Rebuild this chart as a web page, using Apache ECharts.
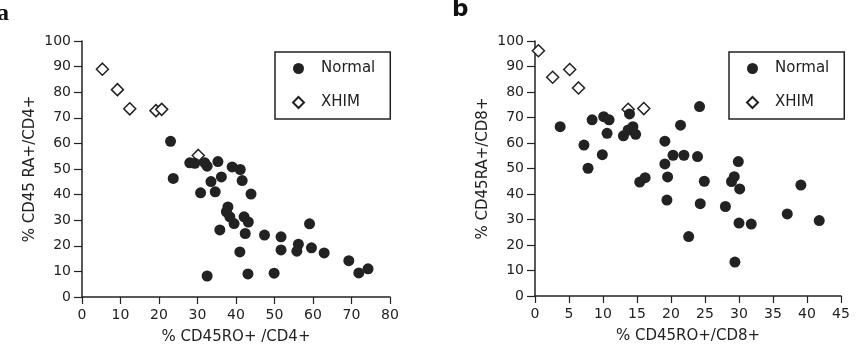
<!DOCTYPE html>
<html lang="en">
<head>
    <meta charset="UTF-8">
    <title>CD45RA / CD45RO</title>
    <style>
        html, body { margin: 0; padding: 0; background: #fff; }
    </style>
</head>
<body>
    <div id="main" style="width: 862px; height: 354px"></div>
    <script src="https://cdn.jsdelivr.net/npm/echarts@6/dist/echarts.min.js"></script>
    <script type="text/javascript">
        // panel a: CD4+ cells  [ %CD45RO+, %CD45RA+ ]
        var normalA = [
            [23.0, 60.8], [23.7, 46.3], [28.0, 52.4], [29.3, 52.2], [31.9, 52.4], [32.5, 51.1],
            [35.3, 52.9], [33.5, 45.1], [36.2, 46.9], [30.8, 40.7], [34.6, 41.1], [39.0, 50.8],
            [41.1, 49.8], [41.6, 45.5], [43.9, 40.2], [37.9, 35.2], [37.5, 33.3], [38.4, 31.3],
            [39.5, 28.7], [42.1, 31.3], [43.2, 29.3], [42.4, 24.8], [35.8, 26.2], [41.0, 17.6],
            [32.5, 8.2], [43.1, 9.0], [49.9, 9.3], [47.4, 24.2], [51.7, 23.5], [51.7, 18.4],
            [56.2, 20.6], [55.8, 17.9], [59.1, 28.6], [59.6, 19.2], [62.9, 17.2], [69.3, 14.2],
            [71.9, 9.4], [74.3, 11.0]
        ];
        var xhimA = [
            [5.3, 89.0], [9.2, 81.0], [12.4, 73.5], [19.2, 72.8], [20.7, 73.3], [30.2, 55.3]
        ];

        // panel b: CD8+ cells
        var normalB = [
            [3.7, 66.4], [7.2, 59.2], [7.8, 50.1], [8.4, 69.1], [10.1, 70.3], [10.9, 69.1],
            [10.6, 63.8], [9.9, 55.4], [13.0, 62.8], [13.9, 71.4], [14.4, 66.4], [13.7, 65.1],
            [14.8, 63.4], [19.1, 60.7], [21.4, 67.0], [24.2, 74.3], [19.1, 51.8], [20.3, 55.2],
            [21.9, 55.2], [23.9, 54.7], [19.5, 46.7], [15.4, 44.7], [16.2, 46.4], [24.9, 45.0],
            [29.9, 52.7], [29.3, 46.8], [28.9, 44.9], [30.1, 42.0], [19.4, 37.6], [24.3, 36.2],
            [28.0, 35.1], [22.6, 23.3], [29.4, 13.3], [30.0, 28.6], [31.8, 28.2], [37.1, 32.2],
            [39.1, 43.5], [41.8, 29.6]
        ];
        var xhimB = [
            [0.5, 96.2], [2.6, 85.8], [5.1, 88.8], [6.4, 81.6], [13.7, 73.2], [16.0, 73.5]
        ];

        var xNames = ['% CD45RO+ /CD4+', '% CD45RO+/CD8+'];
        var yNames = ['% CD45 RA+/CD4+', '% CD45RA+/CD8+'];
        var xMax = [80, 45];
        var xStep = [10, 5];

        var ink = '#222';
        var font = 'DejaVu Sans';

        var myChart = echarts.init(document.getElementById('main'));

        function xAxisFor(i) {
            return {
                gridIndex: i,
                type: 'value',
                min: 0,
                max: xMax[i],
                interval: xStep[i],
                name: xNames[i],
                nameLocation: 'middle',
                nameGap: 33,
                nameTextStyle: { color: ink, fontFamily: font, fontSize: 15 },
                axisLine: { show: true, onZero: false, lineStyle: { color: ink, width: 1.5 } },
                axisTick: { show: true, length: 7, lineStyle: { color: ink, width: 1.2 } },
                axisLabel: { color: ink, fontFamily: font, fontSize: 14, margin: 11 },
                splitLine: { show: false }
            };
        }

        function yAxisFor(i) {
            return {
                gridIndex: i,
                type: 'value',
                min: 0,
                max: 100,
                interval: 10,
                name: yNames[i],
                nameLocation: 'middle',
                nameGap: 44,
                nameTextStyle: { color: ink, fontFamily: font, fontSize: 15 },
                axisLine: { show: true, onZero: false, lineStyle: { color: ink, width: 1.5 } },
                axisTick: { show: true, length: 8, lineStyle: { color: ink, width: 1.2 } },
                axisLabel: { color: ink, fontFamily: font, fontSize: 14, margin: 11 },
                splitLine: { show: false }
            };
        }

        function legendFor(left) {
            return {
                orient: 'vertical',
                left: left,
                top: 52,
                data: ['Normal', 'XHIM'],
                itemWidth: 11,
                itemHeight: 11,
                itemGap: 19,
                padding: [9, 15, 9, 17],
                borderColor: ink,
                borderWidth: 1.5,
                textStyle: { color: ink, fontFamily: font, fontSize: 15, padding: [0, 0, 0, 12] }
            };
        }

        function normalSeries(i, data) {
            return {
                name: 'Normal',
                type: 'scatter',
                xAxisIndex: i,
                yAxisIndex: i,
                symbol: 'circle',
                symbolSize: 11,
                z: 3,
                itemStyle: { color: ink, opacity: 1 },
                data: data
            };
        }

        function xhimSeries(i, data) {
            return {
                name: 'XHIM',
                type: 'scatter',
                xAxisIndex: i,
                yAxisIndex: i,
                symbol: 'diamond',
                symbolSize: 12,
                z: 2,
                itemStyle: { color: '#fff', borderColor: ink, borderWidth: 1.5, opacity: 1 },
                data: data
            };
        }

        var option = {
            animation: false,
            grid: [
                { left: 82, top: 41, width: 308, height: 256 },
                { left: 535, top: 41, width: 306, height: 255 }
            ],
            xAxis: [xAxisFor(0), xAxisFor(1)],
            yAxis: [yAxisFor(0), yAxisFor(1)],
            legend: [legendFor(275), legendFor(729)],
            graphic: [
                {
                    type: 'text', left: -3, top: 2,
                    style: { text: 'a', fill: '#111', fontFamily: 'Liberation Serif', fontWeight: 'bold', fontSize: 24 }
                },
                {
                    type: 'text', left: 452, top: -1,
                    style: { text: 'b', fill: '#111', fontFamily: 'DejaVu Sans', fontWeight: 'bold', fontSize: 23 }
                }
            ],
            series: [
                xhimSeries(0, xhimA),
                normalSeries(0, normalA),
                xhimSeries(1, xhimB),
                normalSeries(1, normalB)
            ]
        };
        myChart.setOption(option);
    </script>
</body>
</html>
